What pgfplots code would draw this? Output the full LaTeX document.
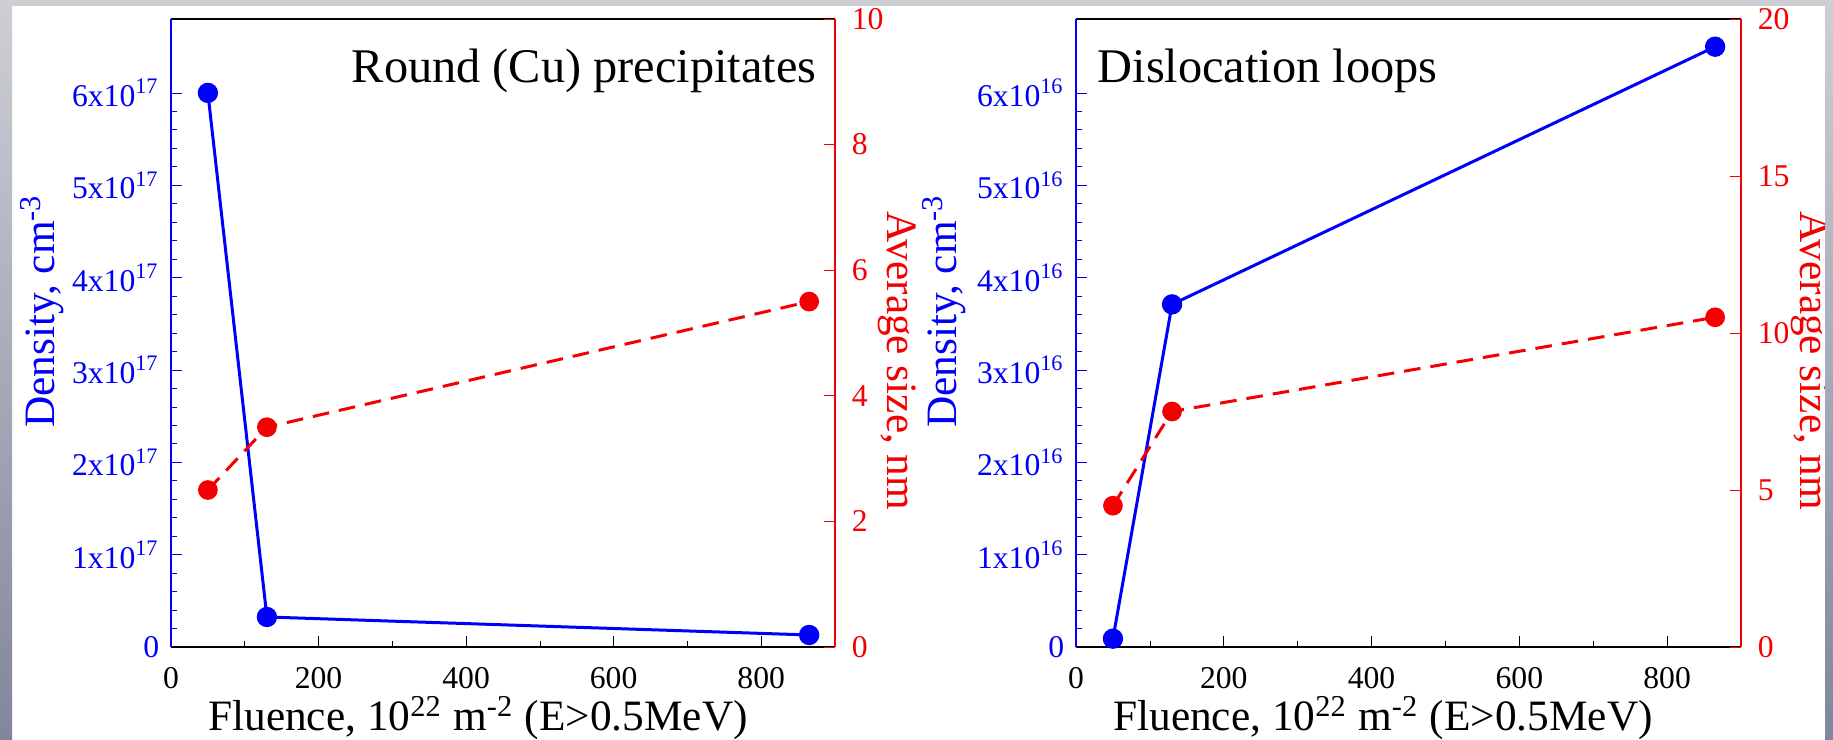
\documentclass[border=0pt]{standalone}
\usepackage{pgfplots}
\pgfplotsset{compat=1.18}
\usepackage{fontspec}
\setmainfont{Liberation Serif}
\definecolor{stripA}{RGB}{206,207,213}
\definecolor{stripB}{RGB}{128,134,156}
\definecolor{myred}{RGB}{245,0,0}
\definecolor{myblue}{RGB}{0,0,250}
\pgfplotsset{
  common/.style={scale only axis, anchor=south west, xmin=0, xmax=900,
    tick align=inside, major tick length=3.3pt, minor tick length=1.8pt,
    width=199.2pt, height=188.4pt,
    /pgf/number format/assume math mode=true,
    tick label style={font=\fontsize{9.5}{10}\selectfont},
    axis line style={-}},
  dens/.style={common, axis x line*=box, axis y line*=left,
    xtick={0,200,...,800}, minor x tick num=1, xtick pos=left,
    ymin=0, ymax=6.8, ytick={0,...,6}, minor y tick num=4, ytick pos=left,
    x axis line style={-,black}, y axis line style={-,myblue},
    ytick style={myblue}, yticklabel style={myblue},
    xtick style={black}, xticklabel style={black, yshift=-2.5pt}},
  size/.style={common, axis x line=none, axis y line*=right, ytick pos=right,
    y axis line style={-,myred}, ytick style={myred},
    yticklabel style={myred, xshift=1.5pt}},
  bl/.style={myblue, line width=0.9pt, mark=*, mark size=2.6pt, mark options={solid, fill=myblue, draw=myblue}},
  rd/.style={myred, line width=0.9pt, dash pattern=on 5pt off 3pt, mark=*, mark size=2.5pt, mark options={solid, fill=myred, draw=myred}},
}
\begin{document}
\begin{tikzpicture}[x=0.3pt,y=0.3pt]
\fill[white] (0,0) rectangle (1833,740);
% ---------- left panel ----------
\begin{axis}[dens, at={(51.3pt,27.9pt)},
  yticklabels={0,1x10\textsuperscript{17},2x10\textsuperscript{17},3x10\textsuperscript{17},4x10\textsuperscript{17},5x10\textsuperscript{17},6x10\textsuperscript{17}}]
\addplot[bl] coordinates {(50,6.0) (130,0.325) (865,0.13)};
\end{axis}
\begin{axis}[size, at={(51.3pt,27.9pt)}, ymin=0, ymax=10, ytick={0,2,...,10}]
\addplot[rd] coordinates {(50,2.5) (130,3.5) (865,5.5)};
\end{axis}
% ---------- right panel ----------
\begin{axis}[dens, at={(322.8pt,27.9pt)}, width=199.5pt,
  yticklabels={0,1x10\textsuperscript{16},2x10\textsuperscript{16},3x10\textsuperscript{16},4x10\textsuperscript{16},5x10\textsuperscript{16},6x10\textsuperscript{16}}]
\addplot[bl] coordinates {(50,0.09) (130,3.71) (865,6.5)};
\end{axis}
\begin{axis}[size, at={(322.8pt,27.9pt)}, width=199.5pt, ymin=0, ymax=20, ytick={0,5,...,20}]
\addplot[rd] coordinates {(50,4.5) (130,7.5) (865,10.5)};
\end{axis}
% ---------- texts ----------
\node[anchor=base east, inner sep=0pt, font=\fontsize{14.5}{17}\selectfont] at (817,657) {Round (Cu) precipitates};
\node[anchor=base west, inner sep=0pt, font=\fontsize{14.5}{17}\selectfont] at (1097,657) {Dislocation loops};
\node[anchor=base, inner sep=0pt, font=\fontsize{13}{15}\selectfont] at (478,9) {Fluence, 10\textsuperscript{22} m\textsuperscript{-2} (E>0.5MeV)};
\node[anchor=base, inner sep=0pt, font=\fontsize{13}{15}\selectfont] at (1383,9) {Fluence, 10\textsuperscript{22} m\textsuperscript{-2} (E>0.5MeV)};
\node[rotate=90, inner sep=0pt, myblue, font=\fontsize{13}{15}\selectfont] at (42,429) {Density, cm\textsuperscript{-3}};
\node[rotate=90, inner sep=0pt, myblue, font=\fontsize{13}{15}\selectfont] at (944,429) {Density, cm\textsuperscript{-3}};
\node[rotate=-90, inner sep=0pt, myred, font=\fontsize{13}{15}\selectfont] at (897,379) {Average size, nm};
\node[rotate=-90, inner sep=0pt, myred, font=\fontsize{13}{15}\selectfont] at (1810,379) {Average size, nm};
% ---------- slide border ----------
\shade[top color=stripA, bottom color=stripB] (0,0) rectangle (12,740);
\shade[top color=stripA, bottom color=stripB] (1825,0) rectangle (1833,740);
\fill[stripA] (0,734) rectangle (1833,740);
\pgfresetboundingbox
\useasboundingbox (0,0) rectangle (1833,740);
\end{tikzpicture}
\end{document}
